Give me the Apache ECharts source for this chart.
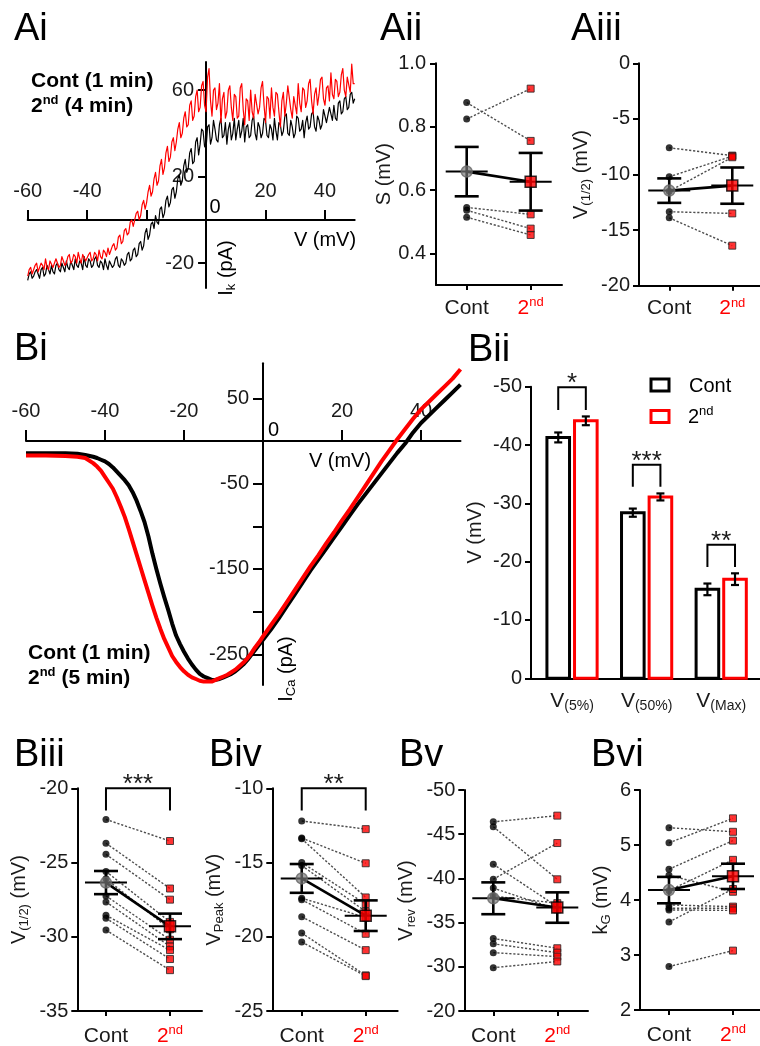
<!DOCTYPE html>
<html>
<head>
<meta charset="utf-8">
<title>I-V relations and gating parameters</title>
<script src="https://cdn.jsdelivr.net/npm/echarts@6.0.0/dist/echarts.min.js"></script>
<style>
  html, body { margin: 0; padding: 0; background: #fff; }
  #chart { width: 760px; height: 1046px; }
</style>
</head>
<body>
<div id="chart"></div>
<script>
// ---------- data ----------
const groups = ['Cont', '2nd'];

// Ai: K+ current during a voltage ramp (pA vs mV), sampled every 0.5 mV
const aiVoltage = [
  -60,-59.5,-59,-58.5,-58,-57.5,-57,-56.5,-56,-55.5,-55,-54.5,-54,-53.5,-53,-52.5,-52,-51.5,-51,-50.5,
  -50,-49.5,-49,-48.5,-48,-47.5,-47,-46.5,-46,-45.5,-45,-44.5,-44,-43.5,-43,-42.5,-42,-41.5,-41,-40.5,
  -40,-39.5,-39,-38.5,-38,-37.5,-37,-36.5,-36,-35.5,-35,-34.5,-34,-33.5,-33,-32.5,-32,-31.5,-31,-30.5,
  -30,-29.5,-29,-28.5,-28,-27.5,-27,-26.5,-26,-25.5,-25,-24.5,-24,-23.5,-23,-22.5,-22,-21.5,-21,-20.5,
  -20,-19.5,-19,-18.5,-18,-17.5,-17,-16.5,-16,-15.5,-15,-14.5,-14,-13.5,-13,-12.5,-12,-11.5,-11,-10.5,
  -10,-9.5,-9,-8.5,-8,-7.5,-7,-6.5,-6,-5.5,-5,-4.5,-4,-3.5,-3,-2.5,-2,-1.5,-1,-0.5,
  0,0.5,1,1.5,2,2.5,3,3.5,4,4.5,5,5.5,6,6.5,7,7.5,8,8.5,9,9.5,
  10,10.5,11,11.5,12,12.5,13,13.5,14,14.5,15,15.5,16,16.5,17,17.5,18,18.5,19,19.5,
  20,20.5,21,21.5,22,22.5,23,23.5,24,24.5,25,25.5,26,26.5,27,27.5,28,28.5,29,29.5,
  30,30.5,31,31.5,32,32.5,33,33.5,34,34.5,35,35.5,36,36.5,37,37.5,38,38.5,39,39.5,
  40,40.5,41,41.5,42,42.5,43,43.5,44,44.5,45,45.5,46,46.5,47,47.5,48,48.5,49,49.5,
  50];
const aiCont = [
  -28,-25,-24,-27,-26,-24,-23,-25,-27,-23,-22,-26,-25,-21,-23,-25,-21,-24,-25,-21,
  -20,-23,-24,-20,-22,-24,-19,-22,-23,-19,-21,-23,-18,-21,-22,-19,-20,-23,-17,-21,
  -22,-18,-19,-22,-21,-18,-17,-21,-22,-19,-20,-23,-18,-21,-23,-19,-19,-22,-21,-18,
  -17,-21,-22,-18,-19,-21,-20,-16,-15,-19,-18,-14,-13,-17,-16,-11,-10,-14,-12,-6,
  -4,-9,-7,-2,-1,-4,2,-1,-2,5,6,1,3,9,11,6,8,14,15,10,
  13,19,21,16,18,25,28,22,24,31,33,26,27,36,38,30,35,42,41,34,
  33,43,44,35,38,46,42,37,36,44,47,38,39,45,35,42,45,37,40,47,
  37,42,46,38,41,47,36,43,44,38,39,46,48,40,37,45,43,38,40,47,
  46,39,38,44,42,37,47,41,37,45,44,39,41,48,49,40,39,46,43,38,
  40,48,47,41,42,46,38,45,48,42,43,49,50,43,41,48,46,42,44,51,
  51,45,45,52,49,46,53,47,46,54,55,49,50,56,57,51,52,58,59,54,
  56];
const aiSecond = [
  -26,-23,-22,-25,-25,-21,-20,-24,-24,-20,-21,-23,-18,-22,-23,-19,-19,-22,-22,-18,
  -18,-22,-21,-17,-17,-21,-20,-17,-16,-20,-19,-16,-17,-20,-15,-18,-20,-16,-16,-19,
  -19,-16,-15,-19,-18,-15,-16,-19,-14,-17,-18,-14,-15,-17,-13,-16,-16,-12,-11,-14,
  -13,-8,-7,-11,-10,-5,-4,-7,-6,-1,0,-3,-3,3,4,0,2,7,9,5,
  8,13,16,11,13,19,22,16,18,25,28,21,24,31,34,27,29,36,38,32,
  36,42,45,38,40,47,50,43,44,53,55,46,48,57,60,50,52,62,64,53,
  50,66,70,55,48,60,61,51,54,63,45,56,59,47,50,60,62,52,46,58,
  57,47,48,61,63,51,44,56,55,46,60,50,47,58,58,49,52,61,64,53,
  45,57,56,47,61,52,48,59,58,50,43,55,59,48,54,62,62,51,47,57,
  57,49,63,54,50,61,60,52,55,63,65,55,49,58,61,53,58,65,66,56,
  53,61,62,55,68,58,56,65,64,57,59,67,70,60,57,66,66,59,72,63,
  63];
const aiXTicks = [-60, -40, -20, 20, 40];
const aiXLabels = [-60, -40, 20, 40];
const aiYTicks = [-20, 20, 60];

// Aii: slope factor S (mV)
const aiiCont = [0.876, 0.824, 0.545, 0.536, 0.514];
const aiiSecond = [0.755, 0.92, 0.523, 0.478, 0.458];
const aiiMean = [0.658, 0.626];
const aiiSem = [0.078, 0.091];
const aiiYTicks = [0.4, 0.6, 0.8, 1.0];

// Aiii: V(1/2) of K+ activation (mV)
const aiiiCont = [-7.6, -10.2, -11.5, -13.35, -13.9];
const aiiiSecond = [-8.3, -8.35, -8.45, -13.5, -16.4];
const aiiiMean = [-11.45, -11.0];
const aiiiSem = [1.1, 1.63];

// Bi: Ca2+ current during a voltage ramp (pA vs mV)
const biVoltage = [-60,-55,-50,-47,-45,-43,-42,-41,-40,-39,-38,-37,-36,-35,-34,-33,-32,-31,-30,-29,-28,-27,-26,-25,-24,-23,-22,-21,-20,-19,-18,-17,-16,-15,-14,-13,-12,-11,-10,-9,-8,-7,-6,-5,-4,-3,-2,-1,0,2,4,6,8,10,12,14,16,18,20,22,24,26,28,30,32,34,36,38,40,42,44,46,48,50];
const biCont = [-14.5,-14.5,-14.5,-15,-16.5,-18.5,
  -20,-22,-24,-27,-31,-36,-41,-46,-52,-60,-70,-82,-95,-112,-132,-150,-167,-183,-198,-214,-228,-238,-247,-255,-262,-268,-273,-276,-278,-280,-280,-279,-277,-275,-273,-270,-266,-262,-257,-251,-245,-239,
  -233,-221,-208,-194,-180,-166,-152,-139,-126,-113,-100,-87,-74,-62,-50,-38,-26,-14,-3,10,21,30,39,48,57,66];
const biSecond = [-17,-17,-17.5,-18.5,-20,-26,
  -30,-35,-42,-49,-56,-66,-77,-89,-103,-118,-133,-148,-163,-178,-193,-207,-220,-232,-242,-252,-259,-265,-270,-274,-277,-279,-281,-282,-282,-282,-280,-278,-276,-274,-271,-268,-264,-260,-255,-249,-242,-236,
  -229,-216,-203,-189,-175,-161,-147,-134,-120,-107,-93,-80,-66,-52,-38,-24,-11,2,14,26,37,46,55,64,73,84];
const biXTicks = [-60, -40, -20, 20, 40];
const biYTicks = [-250, -200, -150, -100, -50, 50];
const biYLabels = [-250, -150, -50, 50];

// Bii: activation voltages (mean ± SEM, mV)
const biiCategories = ['5%', '50%', 'Max'];
const biiContMean = [-41.3, -28.4, -15.25];
const biiContSem = [0.85, 0.7, 1.0];
const biiSecondMean = [-44.15, -31.1, -17.0];
const biiSecondSem = [0.75, 0.6, 1.0];
const biiStars = ['*', '***', '**'];
const biiBracketTop = [-49.9, -36.6, -22.9];
const biiBracketLeg = [-46.0, -32.85, -19.1];

// Biii: V(1/2) of Ca2+ activation (mV)
const biiiCont = [-22.1, -23.7, -24.45, -25.6, -26.1, -27.25, -27.65, -28.55, -28.75, -29.55];
const biiiSecond = [-23.55, -26.75, -27.5, -29.0, -29.5, -30.2, -30.65, -30.9, -31.5, -32.25];
const biiiMean = [-26.35, -29.3];
const biiiSem = [0.78, 0.86];

// Biv: voltage of peak current (mV)
const bivCont = [-12.2, -13.35, -13.4, -15.0, -15.2, -17.4, -17.5, -18.65, -19.75, -20.35];
const bivSecond = [-12.75, -15.05, -17.35, -17.8, -18.3, -18.7, -19.8, -20.9, -22.6, -22.65];
const bivMean = [-16.07, -18.58];
const bivSem = [0.97, 1.03];

// Bv: reversal potential (mV)
const bvCont = [-46.4, -45.85, -41.6, -39.9, -38.9, -38.0, -33.2, -32.6, -31.6, -29.9];
const bvSecond = [-47.1, -39.9, -36.8, -44.0, -36.5, -37.2, -32.1, -31.6, -31.15, -30.6];
const bvMean = [-37.75, -36.7];
const bvSem = [1.8, 1.72];
const bvYLabels = ['-50', '-45', '-40', '-35', '-30', '-20'];

// Bvi: slope factor kG (mV)
const bviCont = [5.315, 5.04, 4.56, 4.45, 4.17, 3.91, 3.85, 3.82, 3.6, 2.79];
const bviSecond = [5.24, 5.485, 5.08, 4.15, 4.73, 3.88, 3.85, 3.81, 4.2, 3.08];
const bviMean = [4.18, 4.43];
const bviSem = [0.24, 0.23];

// significance brackets for the paired panels: [left group, right group, top, leg end]
const biiiBracket = [0, 1, -20, -21.5];
const bivBracket = [0, 1, -10, -11.5];
const biiiStars = '***';
const bivStars = '**';

// ---------- styling ----------
const FONT = '"Liberation Sans", Arial, Helvetica, sans-serif';
const RED = '#ff0000';
const INK = '#1a1a1a';
const GREY_DASH = '#4d4d4d';

const catRich = {
  c: { fontSize: 21, fontFamily: FONT, color: INK, lineHeight: 24 },
  n: { fontSize: 21, fontFamily: FONT, color: RED, lineHeight: 24 },
  s: { fontSize: 13, fontFamily: FONT, color: RED, lineHeight: 14, verticalAlign: 'top' }
};
const nameRich = {
  a: { fontSize: 20, fontFamily: FONT, color: INK, lineHeight: 24 },
  b: { fontSize: 13, fontFamily: FONT, color: INK, lineHeight: 13, verticalAlign: 'bottom' }
};

function ordinal(label) {
  const m = label.match(/^(\d+)(\D+)$/);
  return m ? '{n|' + m[1] + '}{s|' + m[2] + '}' : '{c|' + label + '}';
}

function pairX(g, min, max, margin) {
  return {
    gridIndex: g, type: 'value', min: min, max: max,
    axisLine: { onZero: false, lineStyle: { color: '#000', width: 2 } },
    axisTick: { customValues: [0, 1], length: 5, lineStyle: { color: '#000', width: 2 } },
    axisLabel: {
      customValues: [0, 1], margin: margin,
      formatter: v => ordinal(groups[Math.round(v)]),
      rich: catRich
    },
    splitLine: { show: false }
  };
}

function pairY(g, opts) {
  return {
    gridIndex: g, type: 'value',
    min: opts.min, max: opts.max, interval: opts.interval, inverse: !!opts.inverse,
    axisLine: { show: true, onZero: false, lineStyle: { color: '#000', width: 2 } },
    axisTick: { show: true, length: 6, customValues: opts.ticks, lineStyle: { color: '#000', width: 2 } },
    axisLabel: {
      fontSize: 20, fontFamily: FONT, color: INK, margin: opts.margin || 9,
      customValues: opts.ticks, formatter: opts.formatter
    },
    splitLine: { show: false },
    name: opts.name, nameLocation: 'middle', nameRotate: 90, nameGap: opts.nameGap,
    nameTextStyle: { fontSize: 20, fontFamily: FONT, color: INK, rich: nameRich }
  };
}

// dotted lines joining each cell's Cont and 2nd value
function pairLines(g, cont, second) {
  return {
    type: 'custom', xAxisIndex: g, yAxisIndex: g, z: 1, silent: true,
    data: cont.map((v, i) => [v, second[i]]),
    renderItem: function (params, api) {
      const a = api.coord([0, api.value(0)]);
      const b = api.coord([1, api.value(1)]);
      return { type: 'line', shape: { x1: a[0], y1: a[1], x2: b[0], y2: b[1] },
        style: { stroke: GREY_DASH, lineWidth: 1.4, lineDash: [2.2, 1.8] } };
    }
  };
}

function meanSem(g, mean, sem) {
  return {
    type: 'custom', xAxisIndex: g, yAxisIndex: g, z: 4, silent: true,
    data: mean.map((m, i) => [i, m, sem[i]]),
    renderItem: function (params, api) {
      const x = api.value(0), m = api.value(1), s = api.value(2);
      const c = api.coord([x, m]), hi = api.coord([x, m + s]), lo = api.coord([x, m - s]);
      const st = { stroke: '#000', lineWidth: 2.6 };
      return { type: 'group', children: [
        { type: 'line', shape: { x1: c[0] - 21, y1: c[1], x2: c[0] + 21, y2: c[1] }, style: { stroke: '#000', lineWidth: 2 } },
        { type: 'line', shape: { x1: c[0], y1: hi[1], x2: c[0], y2: lo[1] }, style: st },
        { type: 'line', shape: { x1: c[0] - 12, y1: hi[1], x2: c[0] + 12, y2: hi[1] }, style: st },
        { type: 'line', shape: { x1: c[0] - 12, y1: lo[1], x2: c[0] + 12, y2: lo[1] }, style: st }
      ] };
    }
  };
}

function pairedSeries(g, cont, second, mean, sem) {
  return [
    pairLines(g, cont, second),
    { type: 'scatter', xAxisIndex: g, yAxisIndex: g, z: 2, silent: true,
      data: cont.map(v => [0, v]), symbol: 'circle', symbolSize: 7,
      itemStyle: { color: '#000' } },
    { type: 'scatter', xAxisIndex: g, yAxisIndex: g, z: 2, silent: true,
      data: second.map(v => [1, v]), symbol: 'rect', symbolSize: 7,
      itemStyle: { color: RED, borderColor: '#222', borderWidth: 1 } },
    { type: 'line', xAxisIndex: g, yAxisIndex: g, z: 4, silent: true,
      data: mean.map((m, i) => [i, m]), symbol: 'none',
      lineStyle: { color: '#000', width: 2.6 } },
    meanSem(g, mean, sem),
    { type: 'scatter', xAxisIndex: g, yAxisIndex: g, z: 5, silent: true,
      data: [[0, mean[0]]], symbol: 'circle', symbolSize: 11,
      itemStyle: { color: 'rgba(120,120,120,0.85)', borderColor: '#666', borderWidth: 1.5 } },
    { type: 'scatter', xAxisIndex: g, yAxisIndex: g, z: 5, silent: true,
      data: [[1, mean[1]]], symbol: 'rect', symbolSize: 11,
      itemStyle: { color: RED, borderColor: '#000', borderWidth: 1.5 } }
  ];
}

function bracketSeries(g, bracket, stars) {
  return {
    type: 'custom', xAxisIndex: g, yAxisIndex: g, z: 6, silent: true,
    data: [bracket],
    renderItem: function (params, api) {
      const a = api.coord([api.value(0), api.value(2)]);
      const b = api.coord([api.value(1), api.value(2)]);
      const leg = api.coord([api.value(0), api.value(3)]);
      return { type: 'group', children: [
        { type: 'polyline', shape: { points: [[a[0], leg[1]], [a[0], a[1]], [b[0], b[1]], [b[0], leg[1]]] },
          style: { stroke: '#000', lineWidth: 2, fill: null } },
        { type: 'text', x: (a[0] + b[0]) / 2, y: a[1] - 3,
          style: { text: stars, fontSize: 26, fontFamily: FONT, fill: INK, align: 'center', verticalAlign: 'middle' } }
      ] };
    }
  };
}

// Bii bars: white fill, coloured outline, black SEM whiskers
const BAR_OFFSET = 13.8, BAR_W = 22.6;
function barSeries(name, mean, sem, offset, color) {
  return {
    type: 'custom', name: name, xAxisIndex: 4, yAxisIndex: 4, z: 2, silent: true,
    data: mean.map((m, i) => [i, m, sem[i]]),
    renderItem: function (params, api) {
      const x = api.value(0), v = api.value(1), s = api.value(2);
      const base = api.coord([x, 0]), top = api.coord([x, v]);
      const hi = api.coord([x, v - s]), lo = api.coord([x, v + s]);
      const cx = base[0] + offset;
      const st = { stroke: '#000', lineWidth: 2.2 };
      return { type: 'group', children: [
        { type: 'rect', shape: { x: cx - BAR_W / 2, y: top[1], width: BAR_W, height: base[1] - top[1] },
          style: { fill: '#fff', stroke: color, lineWidth: 3 } },
        { type: 'line', shape: { x1: cx, y1: hi[1], x2: cx, y2: lo[1] }, style: st },
        { type: 'line', shape: { x1: cx - 4, y1: hi[1], x2: cx + 4, y2: hi[1] }, style: st },
        { type: 'line', shape: { x1: cx - 4, y1: lo[1], x2: cx + 4, y2: lo[1] }, style: st }
      ] };
    }
  };
}

const biiSig = {
  type: 'custom', xAxisIndex: 4, yAxisIndex: 4, z: 6, silent: true,
  data: biiStars.map((t, i) => [i, biiBracketTop[i], biiBracketLeg[i]]),
  renderItem: function (params, api) {
    const i = api.value(0);
    const t = api.coord([i, api.value(1)]), l = api.coord([i, api.value(2)]);
    const xa = t[0] - BAR_OFFSET, xb = t[0] + BAR_OFFSET;
    return { type: 'group', children: [
      { type: 'polyline', shape: { points: [[xa, l[1]], [xa, t[1]], [xb, t[1]], [xb, l[1]]] },
        style: { stroke: '#000', lineWidth: 2, fill: null } },
      { type: 'text', x: t[0], y: t[1] - 3,
        style: { text: biiStars[params.dataIndex], fontSize: 26, fontFamily: FONT, fill: INK, align: 'center', verticalAlign: 'middle' } }
    ] };
  }
};

// ---------- traces ----------
function trace(g, volts, amps, color, width, z) {
  return {
    type: 'line', xAxisIndex: g, yAxisIndex: g, z: z, silent: true,
    data: volts.map((v, i) => [v, amps[i]]),
    showSymbol: false, symbol: 'none', smooth: false, sampling: null,
    lineStyle: { color: color, width: width, join: 'round' }
  };
}

const tickStyle = { color: '#000', width: 2 };
const labelBase = { fontSize: 20, fontFamily: FONT, color: INK };

// Ai and Bi axes cross at the origin; they are shifted there once the scales exist
const xAxes = [
  { gridIndex: 0, type: 'value', min: -60, max: 50,
    axisLine: { onZero: false, lineStyle: tickStyle },
    axisTick: { inside: true, length: 10, customValues: aiXTicks, lineStyle: tickStyle },
    axisLabel: Object.assign({ inside: true, margin: 18, customValues: aiXLabels }, labelBase),
    splitLine: { show: false } },
  pairX(1, -0.48, 1.49, 11),
  pairX(2, -0.48, 1.44, 11),
  { gridIndex: 3, type: 'value', min: -60, max: 50,
    axisLine: { onZero: false, lineStyle: tickStyle },
    axisTick: { inside: true, length: 11, customValues: biXTicks, lineStyle: tickStyle },
    axisLabel: Object.assign({ inside: true, margin: 19, customValues: biXTicks }, labelBase),
    splitLine: { show: false } },
  { gridIndex: 4, type: 'value', min: -0.55, max: 2.52,
    axisLine: { onZero: false, lineStyle: tickStyle },
    axisTick: { show: false },
    axisLabel: { customValues: [0, 1, 2], margin: 11,
      formatter: v => '{v|V}{s|(' + biiCategories[Math.round(v)] + ')}',
      rich: {
        v: { fontSize: 21, fontFamily: FONT, color: INK, lineHeight: 24 },
        s: { fontSize: 14, fontFamily: FONT, color: INK, lineHeight: 14, verticalAlign: 'bottom' }
      } },
    splitLine: { show: false } },
  pairX(5, -0.448, 1.5, 13),
  pairX(6, -0.46, 1.5, 13),
  pairX(7, -0.453, 1.48, 13),
  pairX(8, -0.453, 1.422, 13)
];

const yAxes = [
  { gridIndex: 0, type: 'value', min: -31.5, max: 73,
    axisLine: { onZero: false, lineStyle: tickStyle },
    axisTick: { length: 8, customValues: aiYTicks, lineStyle: tickStyle },
    axisLabel: Object.assign({ margin: 12, customValues: aiYTicks }, labelBase),
    splitLine: { show: false } },
  pairY(1, { min: 0.3, max: 1.0, ticks: aiiYTicks, formatter: v => v.toFixed(1), margin: 10,
    name: '{a|S (mV)}', nameGap: 40 }),
  pairY(2, { min: -20, max: 0, interval: 5, name: '{a|V}{b|(1/2)}{a| (mV)}', nameGap: 46 }),
  { gridIndex: 3, type: 'value', min: -286, max: 91,
    axisLine: { onZero: false, lineStyle: tickStyle },
    axisTick: { length: 10, customValues: biYTicks, lineStyle: tickStyle },
    axisLabel: Object.assign({ margin: 14, customValues: biYLabels }, labelBase),
    splitLine: { show: false } },
  pairY(4, { min: -50, max: 0, interval: 10, inverse: true, name: '{a|V (mV)}', nameGap: 44 }),
  pairY(5, { min: -35, max: -20, interval: 5, name: '{a|V}{b|(1/2)}{a| (mV)}', nameGap: 46 }),
  pairY(6, { min: -25, max: -10, interval: 5, name: '{a|V}{b|Peak}{a| (mV)}', nameGap: 46 }),
  pairY(7, { min: -50, max: -25, interval: 5, inverse: true,
    formatter: v => bvYLabels[Math.round((v + 50) / 5)], name: '{a|V}{b|rev}{a| (mV)}', nameGap: 46 }),
  pairY(8, { min: 2, max: 6, interval: 1, name: '{a|k}{b|G}{a| (mV)}', nameGap: 27 })
];

const series = [
  trace(0, aiVoltage, aiCont, '#000', 1.2, 2),
  trace(0, aiVoltage, aiSecond, RED, 1.2, 3),
  trace(3, biVoltage, biCont, '#000', 4, 2),
  trace(3, biVoltage, biSecond, RED, 4, 3),
  barSeries('Cont', biiContMean, biiContSem, -BAR_OFFSET, '#000'),
  barSeries('2nd', biiSecondMean, biiSecondSem, BAR_OFFSET, RED),
  biiSig,
  ...pairedSeries(1, aiiCont, aiiSecond, aiiMean, aiiSem),
  ...pairedSeries(2, aiiiCont, aiiiSecond, aiiiMean, aiiiSem),
  ...pairedSeries(5, biiiCont, biiiSecond, biiiMean, biiiSem),
  bracketSeries(5, biiiBracket, biiiStars),
  ...pairedSeries(6, bivCont, bivSecond, bivMean, bivSem),
  bracketSeries(6, bivBracket, bivStars),
  ...pairedSeries(7, bvCont, bvSecond, bvMean, bvSem),
  ...pairedSeries(8, bviCont, bviSecond, bviMean, bviSem)
];

// ---------- free text: panel letters, trace keys, crossing-axis names ----------
function label(text, x, y, size) {
  return { type: 'text', x: x, y: y, silent: true,
    style: { text: text, fontSize: size, fontFamily: FONT, fill: '#000', verticalAlign: 'middle' } };
}
const legRich = {
  k: { fontSize: 21, fontWeight: 'bold', fontFamily: FONT, color: '#000', lineHeight: 24 },
  r: { fontSize: 21, fontWeight: 'bold', fontFamily: FONT, color: RED, lineHeight: 24 },
  rs: { fontSize: 13, fontWeight: 'bold', fontFamily: FONT, color: RED, lineHeight: 14, verticalAlign: 'top' }
};
const axRich = {
  a: { fontSize: 20, fontFamily: FONT, color: INK, lineHeight: 24 },
  b: { fontSize: 13, fontFamily: FONT, color: INK, lineHeight: 13, verticalAlign: 'bottom' },
  n: { fontSize: 20, fontFamily: FONT, color: RED, lineHeight: 24 },
  s: { fontSize: 13, fontFamily: FONT, color: RED, lineHeight: 14, verticalAlign: 'top' }
};
function richText(text, x, y, rich, align, rotation) {
  return { type: 'text', x: x, y: y, rotation: rotation || 0, silent: true,
    style: { text: text, rich: rich, align: align || 'left', verticalAlign: 'middle' } };
}

const graphic = [
  label('Ai', 14, 30, 38), label('Aii', 380, 30, 38), label('Aiii', 571, 30, 38),
  label('Bi', 14, 350, 38), label('Bii', 468, 351, 38),
  label('Biii', 14, 756, 38), label('Biv', 209, 756, 38), label('Bv', 399, 756, 38), label('Bvi', 591, 756, 38),
  // Ai trace key and axis names
  richText('{k|Cont (1 min)}', 31, 81, legRich),
  richText('{r|2}{rs|nd}{r| (4 min)}', 31, 106, legRich),
  richText('{a|V (mV)}', 325, 240, axRich, 'center'),
  richText('{a|0}', 215, 207, axRich, 'center'),
  richText('{a|I}{b|k}{a| (pA)}', 226, 268, axRich, 'center', Math.PI / 2),
  // Bi trace key and axis names
  richText('{k|Cont (1 min)}', 28, 653, legRich),
  richText('{r|2}{rs|nd}{r| (5 min)}', 28, 678, legRich),
  richText('{a|V (mV)}', 340, 461, axRich, 'center'),
  richText('{a|0}', 273.5, 430.5, axRich, 'center'),
  richText('{a|I}{b|Ca}{a| (pA)}', 286, 669, axRich, 'center', Math.PI / 2),
  // Bii key
  { type: 'rect', silent: true, shape: { x: 651, y: 379, width: 18, height: 12 }, style: { fill: '#fff', stroke: '#000', lineWidth: 3 } },
  { type: 'rect', silent: true, shape: { x: 651, y: 410.5, width: 18, height: 12 }, style: { fill: '#fff', stroke: RED, lineWidth: 3 } },
  richText('{a|' + groups[0] + '}', 689, 386, axRich),
  richText(ordinal(groups[1]), 688, 417, axRich)
];

const chart = echarts.init(document.getElementById('chart'), null, { renderer: 'canvas', width: 760, height: 1046 });
chart.setOption({
  animation: false,
  backgroundColor: '#fff',
  textStyle: { fontFamily: FONT },
  grid: [
    { left: 27.7, top: 62, width: 327, height: 226 },
    { left: 436, top: 63.3, width: 126, height: 221.7 },
    { left: 639, top: 63.3, width: 121, height: 222.4 },
    { left: 26, top: 363.3, width: 434.5, height: 321.7 },
    { left: 531, top: 386.7, width: 229, height: 291.6 },
    { left: 77.3, top: 788.3, width: 124.7, height: 222.7 },
    { left: 272.3, top: 788.3, width: 125.4, height: 222.7 },
    { left: 464.3, top: 790, width: 123.7, height: 221 },
    { left: 640, top: 790, width: 120, height: 220 }
  ].map(g => Object.assign({ containLabel: false, outerBoundsMode: 'none' }, g)),
  xAxis: xAxes,
  yAxis: yAxes,
  series: series,
  graphic: graphic
});

// move the Ai / Bi axes (line, ticks and labels) onto the origin of their own scales
const shiftX = xAxes.map(() => ({}));
const shiftY = yAxes.map(() => ({}));
[[0, -60, -31.5], [3, -60, -286]].forEach(([g, xMin, yMin]) => {
  const origin = chart.convertToPixel({ gridIndex: g }, [0, 0]);
  const corner = chart.convertToPixel({ gridIndex: g }, [xMin, yMin]);
  shiftX[g] = { offset: -(corner[1] - origin[1]) };
  shiftY[g] = { offset: -(origin[0] - corner[0]) };
});
chart.setOption({ xAxis: shiftX, yAxis: shiftY });
</script>
</body>
</html>
